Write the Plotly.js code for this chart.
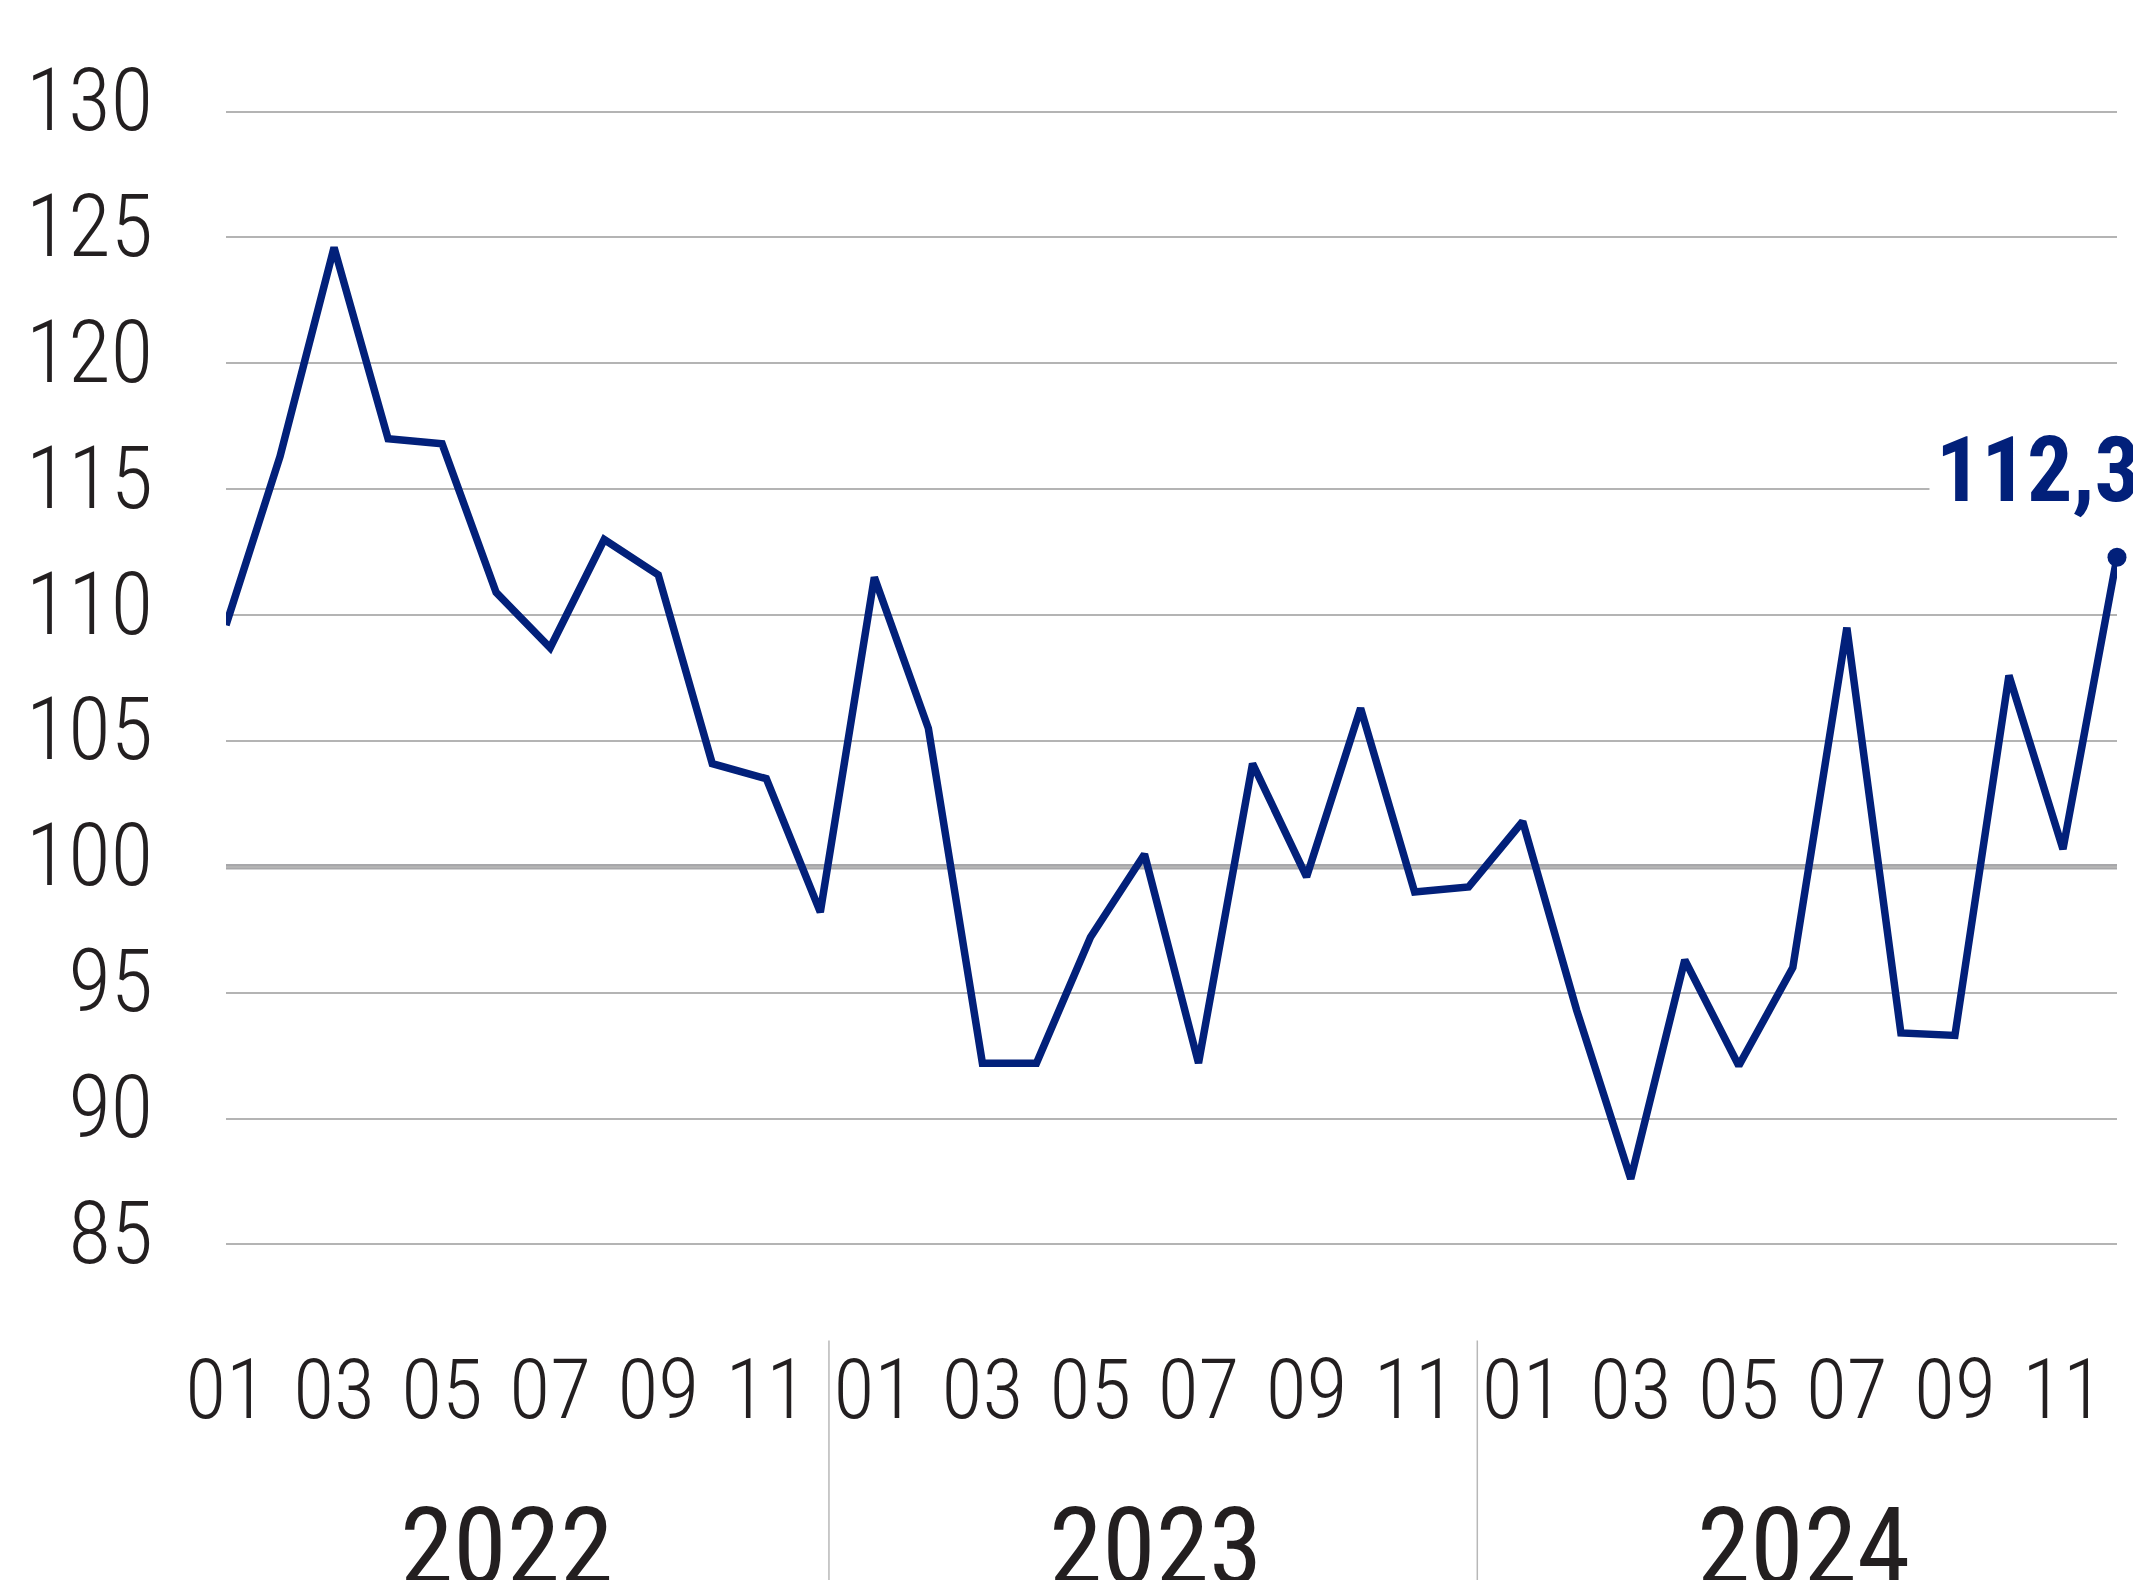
<!DOCTYPE html>
<html>
<head>
<meta charset="utf-8">
<script src="https://cdn.plot.ly/plotly-3.0.1.min.js"></script>
<style>
  html, body { margin: 0; padding: 0; background: #ffffff; }
  #chart { width: 2133px; height: 1580px; }
</style>
</head>
<body>
<div id="chart"></div>
<script>
// ---- data ----
const years = ['2022', '2023', '2024'];
const monthLabels = ['01','02','03','04','05','06','07','08','09','10','11','12'];
const values2022 = [109.6, 116.3, 124.6, 117.0, 116.8, 110.9, 108.7, 113.0, 111.6, 104.1, 103.5, 98.2];
const values2023 = [111.5, 105.5, 92.2, 92.2, 97.2, 100.5, 92.2, 104.1, 99.6, 106.3, 99.0, 99.2];
const values2024 = [101.8, 94.3, 87.6, 96.3, 92.1, 96.0, 109.5, 93.4, 93.3, 107.6, 100.7, 112.3];
const lastLabel = '112,3';
const yTicks = [85, 90, 95, 100, 105, 110, 115, 120, 125, 130];

// ---- build series ----
const allValues = values2022.concat(values2023, values2024);
const xIdx = allValues.map((v, i) => i);
const tickvals = [], ticktext = [];
years.forEach((y, yi) => {
  monthLabels.forEach((m, mi) => {
    if (mi % 2 === 0) { tickvals.push(yi * 12 + mi); ticktext.push(m); }
  });
});
const lastIdx = allValues.length - 1;

const navy = '#02207a';
const labelFont = 'Roboto Condensed, Roboto, sans-serif';

const traces = [
  {
    x: xIdx, y: allValues, type: 'scatter', mode: 'lines',
    line: { color: navy, width: 7.5, shape: 'linear' },
    cliponaxis: false, hoverinfo: 'skip', showlegend: false
  },
  {
    x: [lastIdx], y: [allValues[lastIdx]], type: 'scatter', mode: 'markers',
    marker: { color: navy, size: 19 },
    cliponaxis: false, hoverinfo: 'skip', showlegend: false
  }
];

const shapes = [
  { type: 'line', xref: 'paper', yref: 'y', x0: 0, x1: 1, y0: 100, y1: 100,
    line: { color: '#a7a7aa', width: 5.5 }, layer: 'below' }
];
// year separators
for (let i = 1; i < years.length; i++) {
  const xs = i * 12 - 0.84;
  shapes.push({ type: 'line', xref: 'x', yref: 'paper', x0: xs, x1: xs, y0: -0.072, y1: -0.30,
    line: { color: '#b8b8b8', width: 1.5 } });
}

const annotations = years.map((y, i) => ({
  text: y, xref: 'x', yref: 'paper', x: i * 12 + 5.5 - 0.3, y: -0.25,
  xanchor: 'center', yanchor: 'middle', showarrow: false,
  font: { family: labelFont, size: 108, weight: 400, color: '#231f20' }
}));
annotations.push({
  text: lastLabel, xref: 'x', yref: 'y', x: lastIdx, y: allValues[lastIdx],
  xanchor: 'left', yanchor: 'middle', showarrow: false,
  xshift: -188, yshift: 87, bgcolor: '#ffffff', borderpad: 6,
  font: { family: labelFont, size: 90, weight: 700, color: navy }
});

const layout = {
  width: 2133, height: 1580,
  paper_bgcolor: '#ffffff', plot_bgcolor: '#ffffff',
  margin: { l: 226, r: 16, t: 99, b: 323, pad: 0 },
  showlegend: false,
  xaxis: {
    range: [0, lastIdx], showgrid: false, zeroline: false, showline: false,
    tickmode: 'array', tickvals: tickvals, ticktext: ticktext,
    ticks: '', ticklabelstandoff: 76,
    tickfont: { family: labelFont, size: 84, weight: 300, color: '#231f20' }
  },
  yaxis: {
    range: [84.5, 130.5], showgrid: true, gridcolor: '#b4b4b4', gridwidth: 2,
    zeroline: false, showline: false,
    tickmode: 'array', tickvals: yTicks, ticktext: yTicks.map(String),
    ticks: '', ticklabelstandoff: 72, ticklabelshift: -12,
    tickfont: { family: labelFont, size: 87, weight: 300, color: '#231f20' }
  },
  shapes: shapes,
  annotations: annotations
};

Plotly.newPlot('chart', traces, layout, { staticPlot: true, displayModeBar: false });
</script>
</body>
</html>
